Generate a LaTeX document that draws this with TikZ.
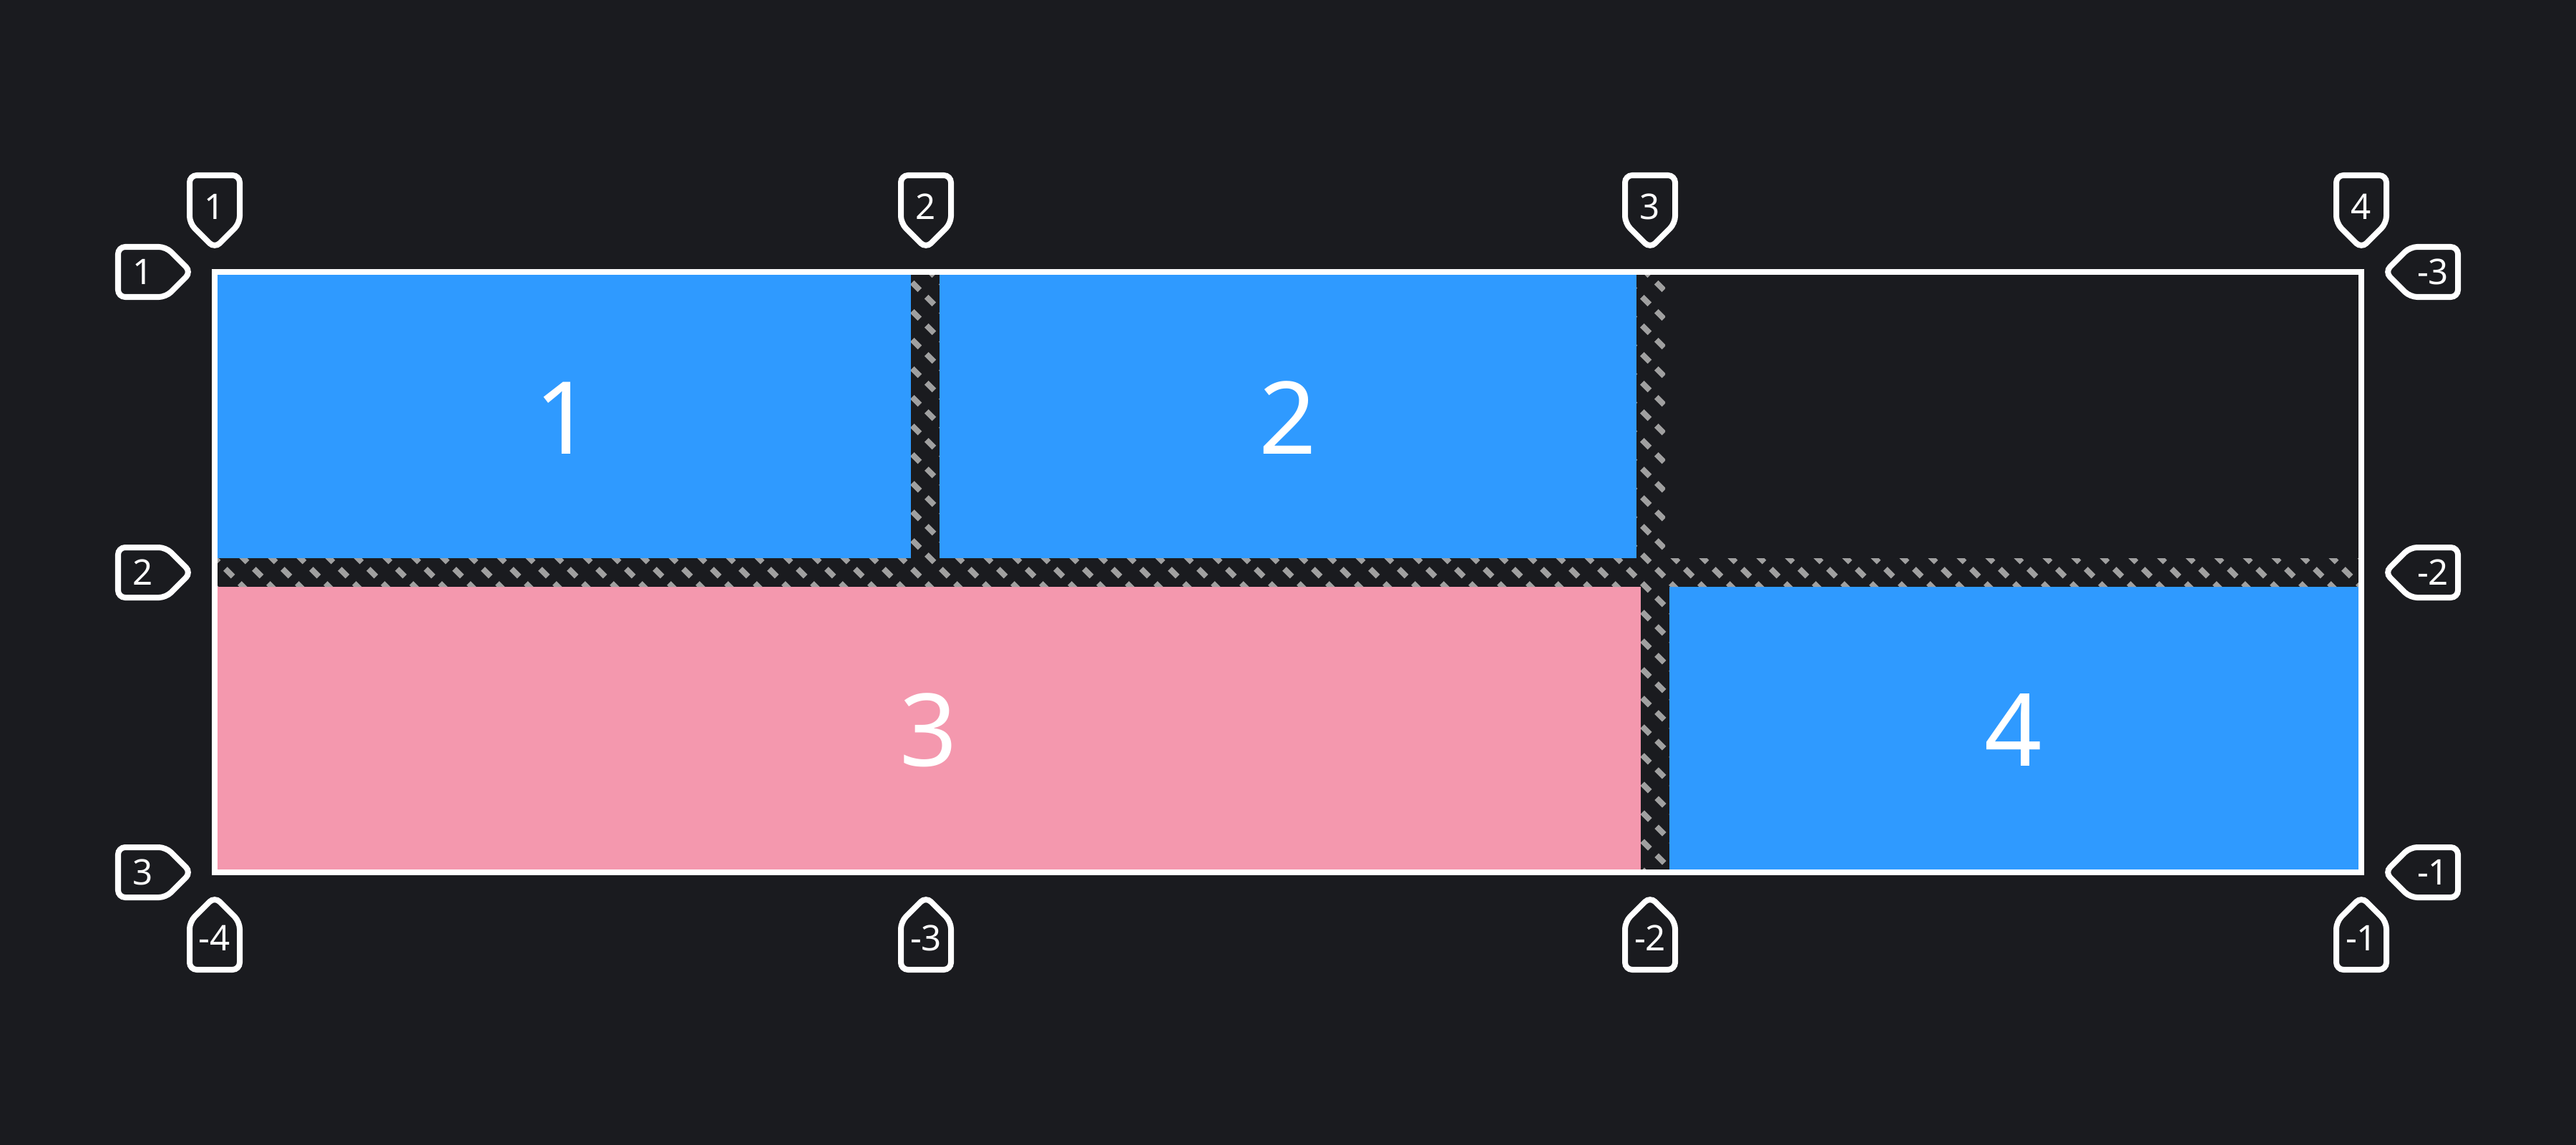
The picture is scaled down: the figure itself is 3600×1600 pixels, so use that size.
\documentclass[tikz,border=0pt]{standalone}
\usepackage{fontspec}
\setmainfont{Noto Sans}
\definecolor{gridbg}{RGB}{26,27,31}
\definecolor{itemblue}{RGB}{47,154,255}
\definecolor{itempink}{RGB}{244,152,174}
\definecolor{hatchgray}{RGB}{160,160,160}

\tikzset{
  tagline/.style={draw=white, fill=gridbg, line width=0.08cm, rounded corners=0.1cm},
  taglabel/.style={text=white, font=\fontsize{14}{16}\selectfont, inner sep=0pt},
  itemlabel/.style={text=white, font=\fontsize{40}{48}\selectfont, inner sep=0pt},
}

\begin{document}
\begin{tikzpicture}[x=0.01cm, y=-0.01cm]
        % Background
        \fill[gridbg] (0,0) rectangle (3600,1600);
        \useasboundingbox (0,0) rectangle (3600,1600);

        % Items
        \fill[itemblue] (304,384) rectangle (1273,780);
        \fill[itemblue] (1313,384) rectangle (2287,780);
        \fill[itempink] (304,820) rectangle (2293,1215);
        \fill[itemblue] (2333,820) rectangle (3296,1215);
        \node[itemlabel] (item1) at (788,584) {1};
        \node[itemlabel] (item2) at (1800,584) {2};
        \node[itemlabel] (item3) at (1298,1020) {3};
        \node[itemlabel] (item4) at (2814,1020) {4};

        % Gaps (hatched)
        \begin{scope}
            \clip (304,780) rectangle (3296,820)
                  (1273,384) rectangle (1313,780)
                  (2287,384) rectangle (2327,780)
                  (2293,820) rectangle (2333,1215);
            \foreach \k in {-24,...,74}
            {
                \draw[hatchgray, line width=0.08cm, dash pattern=on 0.15cm off 0.13284cm]
                    ({40*\k+354.7},354.7) -- ({40*\k+1240},1240);
            }
        \end{scope}

        % Grid border
        \draw[white, line width=0.08cm] (300,380) rectangle (3300,1219);

        % Column line tags (top)
        \foreach \x/\n [count=\i] in {300/1,1294/2,2306/3,3300/4}
        {
            \draw[tagline] (\x,245) -- (\x+35,245) -- (\x+35,312) -- (\x,347) -- (\x-35,312) -- (\x-35,245) -- cycle;
            \node[taglabel] (coltop\i) at (\x,289) {\n};
        }

        % Column line tags (bottom)
        \foreach \x/\n [count=\i] in {300/-4,1294/-3,2306/-2,3300/-1}
        {
            \draw[tagline] (\x,1355) -- (\x+35,1355) -- (\x+35,1288) -- (\x,1253) -- (\x-35,1288) -- (\x-35,1355) -- cycle;
            \node[taglabel] (colbot\i) at (\x,1311) {\n};
        }

        % Row line tags (left)
        \foreach \y/\n [count=\i] in {380/1,800/2,1219/3}
        {
            \draw[tagline] (165,\y) -- (165,\y-35) -- (232,\y-35) -- (267,\y) -- (232,\y+35) -- (165,\y+35) -- cycle;
            \node[taglabel] (rowleft\i) at (200,\y) {\n};
        }

        % Row line tags (right)
        \foreach \y/\n [count=\i] in {380/-3,800/-2,1219/-1}
        {
            \draw[tagline] (3435,\y) -- (3435,\y-35) -- (3368,\y-35) -- (3333,\y) -- (3368,\y+35) -- (3435,\y+35) -- cycle;
            \node[taglabel] (rowright\i) at (3400,\y) {\n};
        }
\end{tikzpicture}
\end{document}
